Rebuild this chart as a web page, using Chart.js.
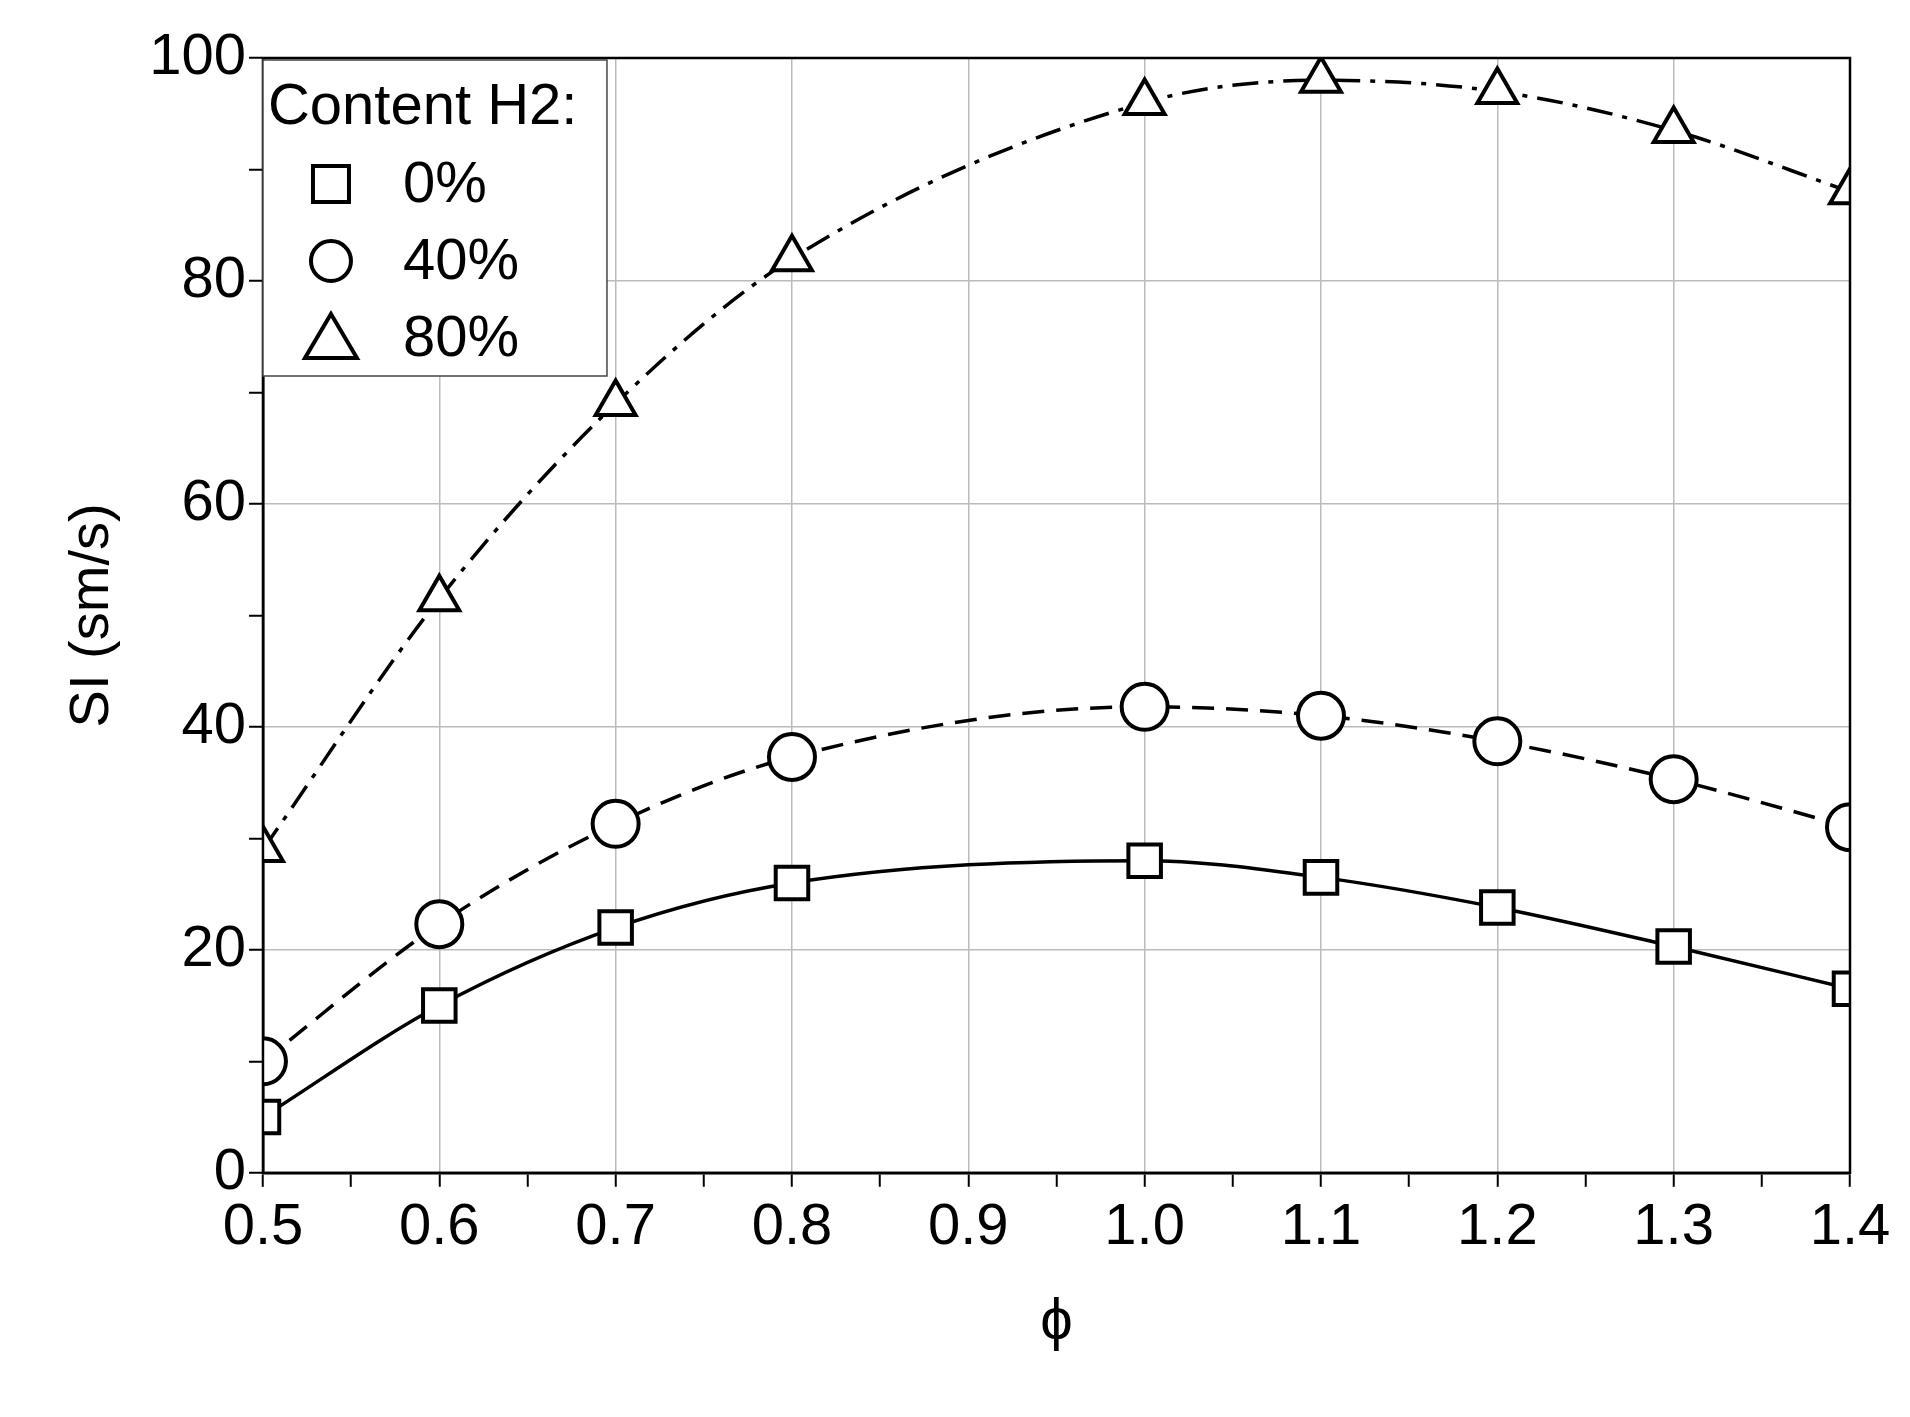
<!DOCTYPE html>
<html>
<head>
<meta charset="utf-8">
<script src="https://cdn.jsdelivr.net/npm/chart.js@4/dist/chart.umd.min.js"></script>
<style>
  html, body { margin: 0; padding: 0; background: #fff; }
  #wrap { width: 1910px; height: 1417px; }
</style>
</head>
<body>
<div id="wrap"><canvas id="chart" width="1910" height="1417"></canvas></div>
<script>
const phi = [0.5, 0.6, 0.7, 0.8, 1.0, 1.1, 1.2, 1.3, 1.4];
const h2_0 = [5, 15, 22, 26, 28, 26.5, 23.8, 20.3, 16.5];
const h2_40 = [10, 22.3, 31.3, 37.3, 41.8, 41, 38.7, 35.3, 31];
const h2_80 = [29, 51.5, 69, 82, 96, 98, 97, 93.5, 88];
const xTicks = [0.5, 0.6, 0.7, 0.8, 0.9, 1.0, 1.1, 1.2, 1.3, 1.4];
const yTicks = [0, 20, 40, 60, 80, 100];
const legendLabels = ['0%', '40%', '80%'];

const FONT = 'Arial, "Liberation Sans", sans-serif';
const toXY = ys => phi.map((x, i) => ({ x, y: ys[i] }));

function series(ys, label, style, dash) {
    return {
        label,
        data: toXY(ys),
        borderColor: '#000',
        borderWidth: 3.5,
        borderDash: dash,
        cubicInterpolationMode: 'monotone',
        pointStyle: style,
        pointRadius: 23,
        pointBorderWidth: 4,
        pointBackgroundColor: '#fff',
        pointBorderColor: '#000',
        fill: false
    };
}

// frame + legend box
const framePlugin = {
    id: 'frame',
    afterDraw(chart) {
        const { ctx, chartArea: a } = chart;
        ctx.save();
        ctx.strokeStyle = '#000';
        ctx.lineWidth = 2.5;
        ctx.strokeRect(a.left, a.top, a.right - a.left, a.bottom - a.top);
        const bx = a.left, by = a.top + 2, bw = 344, bh = 316;
        ctx.fillStyle = '#fff';
        ctx.fillRect(bx, by, bw, bh);
        ctx.lineWidth = 1.5;
        ctx.strokeStyle = '#444';
        ctx.strokeRect(bx, by, bw, bh);
        ctx.fillStyle = '#000';
        ctx.font = '58px ' + FONT;
        ctx.textBaseline = 'middle';
        ctx.fillText('Content H2:', bx + 5, by + 48);
        const styles = ['rect', 'circle', 'triangle'];
        legendLabels.forEach((t, i) => {
            const cy = by + 124 + i * 77;
            ctx.lineWidth = 4;
            ctx.strokeStyle = '#000';
            ctx.fillStyle = '#fff';
            ctx.beginPath();
            if (styles[i] === 'rect') ctx.rect(bx + 50, cy - 18, 36, 36);
            else if (styles[i] === 'circle') ctx.arc(bx + 68, cy, 20, 0, Math.PI * 2);
            else { ctx.moveTo(bx + 68, cy - 24); ctx.lineTo(bx + 94, cy + 20); ctx.lineTo(bx + 42, cy + 20); ctx.closePath(); }
            ctx.fill(); ctx.stroke();
            ctx.fillStyle = '#000';
            ctx.fillText(t, bx + 140, cy + 2);
        });
        ctx.restore();
    }
};

const minorGrid = (ctx, step) => {
    const v = ctx.tick ? ctx.tick.value : 0;
    return Math.abs(v / step - Math.round(v / step)) < 1e-6 ? '#bbb' : 'rgba(0,0,0,0)';
};

new Chart(document.getElementById('chart'), {
    type: 'line',
    data: {
        datasets: [
            series(h2_0, '0%', 'rect', []),
            series(h2_40, '40%', 'circle', [22, 12]),
            series(h2_80, '80%', 'triangle', [26, 10, 5, 10])
        ]
    },
    options: {
        responsive: false,
        animation: false,
        layout: { padding: { left: 55, right: 60, top: 58, bottom: 55 } },
        plugins: { legend: { display: false }, tooltip: { enabled: false } },
        scales: {
            x: {
                type: 'linear', min: 0.5, max: 1.4,
                afterBuildTicks: s => {
                    const t = [];
                    for (let i = 0; i <= 18; i++) t.push({ value: +(0.5 + i * 0.05).toFixed(2) });
                    s.ticks = t;
                },
                grid: {
                    color: c => minorGrid(c, 0.1), lineWidth: 1.5,
                    tickColor: '#000', tickLength: 14, tickWidth: 2
                },
                border: { color: '#000', width: 2.5 },
                ticks: {
                    autoSkip: false, maxRotation: 0, color: '#000', padding: 6,
                    font: { size: 58, family: FONT },
                    callback: v => xTicks.some(t => Math.abs(t - v) < 1e-6) ? v.toFixed(1) : ''
                },
                title: {
                    display: true, text: 'ϕ', color: '#000', padding: { top: 20 },
                    font: { size: 58, family: FONT }
                }
            },
            y: {
                min: 0, max: 100,
                afterBuildTicks: s => {
                    const t = [];
                    for (let v = 0; v <= 100; v += 10) t.push({ value: v });
                    s.ticks = t;
                },
                grid: {
                    color: c => minorGrid(c, 20), lineWidth: 1.5,
                    tickColor: '#000', tickLength: 14, tickWidth: 2
                },
                border: { color: '#000', width: 2.5 },
                ticks: {
                    autoSkip: false, color: '#000',
                    font: { size: 58, family: FONT },
                    callback: v => yTicks.includes(v) ? String(v) : ''
                },
                title: {
                    display: true, text: 'SI (sm/s)', color: '#000', padding: { bottom: 20 },
                    font: { size: 56, family: FONT }
                }
            }
        }
    },
    plugins: [framePlugin]
});
</script>
</body>
</html>
